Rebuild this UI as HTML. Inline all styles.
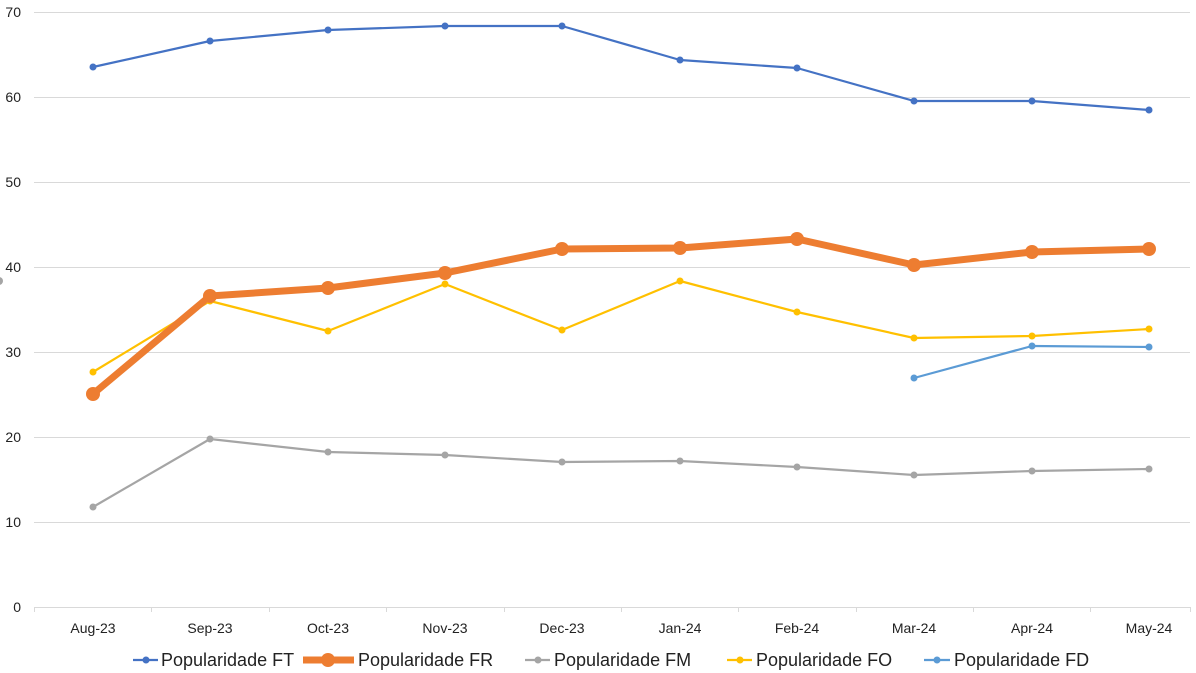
<!DOCTYPE html>
<html><head><meta charset="utf-8"><style>body{margin:0;background:#fff}svg{display:block}text{font-family:"Liberation Sans",Roboto,sans-serif;fill:#222}</style></head><body>
<svg width="1196" height="673" xmlns="http://www.w3.org/2000/svg">
<g stroke="#d9d9d9" stroke-width="1">
<line x1="34" y1="12.5" x2="1190" y2="12.5"/><line x1="34" y1="97.5" x2="1190" y2="97.5"/><line x1="34" y1="182.5" x2="1190" y2="182.5"/><line x1="34" y1="267.5" x2="1190" y2="267.5"/><line x1="34" y1="352.5" x2="1190" y2="352.5"/><line x1="34" y1="437.5" x2="1190" y2="437.5"/><line x1="34" y1="522.5" x2="1190" y2="522.5"/><line x1="34" y1="607.5" x2="1190" y2="607.5"/>
<line x1="34.5" y1="607" x2="34.5" y2="612"/><line x1="151.5" y1="607" x2="151.5" y2="612"/><line x1="269.5" y1="607" x2="269.5" y2="612"/><line x1="386.5" y1="607" x2="386.5" y2="612"/><line x1="504.5" y1="607" x2="504.5" y2="612"/><line x1="621.5" y1="607" x2="621.5" y2="612"/><line x1="738.5" y1="607" x2="738.5" y2="612"/><line x1="856.5" y1="607" x2="856.5" y2="612"/><line x1="973.5" y1="607" x2="973.5" y2="612"/><line x1="1090.5" y1="607" x2="1090.5" y2="612"/><line x1="1190.5" y1="607" x2="1190.5" y2="612"/>
</g>
<g font-size="14" text-anchor="end">
<text x="21" y="17">70</text><text x="21" y="102">60</text><text x="21" y="187">50</text><text x="21" y="272">40</text><text x="21" y="357">30</text><text x="21" y="442">20</text><text x="21" y="527">10</text><text x="21" y="612">0</text>
</g>
<g font-size="14" text-anchor="middle">
<text x="93" y="633">Aug-23</text><text x="210" y="633">Sep-23</text><text x="328" y="633">Oct-23</text><text x="445" y="633">Nov-23</text><text x="562" y="633">Dec-23</text><text x="680" y="633">Jan-24</text><text x="797" y="633">Feb-24</text><text x="914" y="633">Mar-24</text><text x="1032" y="633">Apr-24</text><text x="1149" y="633">May-24</text>
</g>
<circle cx="-1" cy="281" r="4" fill="#a5a5a5"/>
<g fill="none" stroke-linejoin="round">
<polyline stroke="#a5a5a5" stroke-width="2.2" points="93,507 210,439 328,452 445,455 562,462 680,461 797,467 914,475 1032,471 1149,469"/>
<polyline stroke="#ffc000" stroke-width="2.2" points="93,372 210,301 328,331 445,284 562,330 680,281 797,312 914,338 1032,336 1149,329"/>
<polyline stroke="#5b9bd5" stroke-width="2.2" points="914,378 1032,346 1149,347"/>
<polyline stroke="#4472c4" stroke-width="2.2" points="93,67 210,41 328,30 445,26 562,26 680,60 797,68 914,101 1032,101 1149,110"/>
<polyline stroke="#ed7d31" stroke-width="7" points="93,394 210,296 328,288 445,273 562,249 680,248 797,239 914,265 1032,252 1149,249"/>
</g>
<g fill="#a5a5a5"><circle cx="93" cy="507" r="3.5"/><circle cx="210" cy="439" r="3.5"/><circle cx="328" cy="452" r="3.5"/><circle cx="445" cy="455" r="3.5"/><circle cx="562" cy="462" r="3.5"/><circle cx="680" cy="461" r="3.5"/><circle cx="797" cy="467" r="3.5"/><circle cx="914" cy="475" r="3.5"/><circle cx="1032" cy="471" r="3.5"/><circle cx="1149" cy="469" r="3.5"/></g>
<g fill="#ffc000"><circle cx="93" cy="372" r="3.5"/><circle cx="210" cy="301" r="3.5"/><circle cx="328" cy="331" r="3.5"/><circle cx="445" cy="284" r="3.5"/><circle cx="562" cy="330" r="3.5"/><circle cx="680" cy="281" r="3.5"/><circle cx="797" cy="312" r="3.5"/><circle cx="914" cy="338" r="3.5"/><circle cx="1032" cy="336" r="3.5"/><circle cx="1149" cy="329" r="3.5"/></g>
<g fill="#5b9bd5"><circle cx="914" cy="378" r="3.5"/><circle cx="1032" cy="346" r="3.5"/><circle cx="1149" cy="347" r="3.5"/></g>
<g fill="#4472c4"><circle cx="93" cy="67" r="3.5"/><circle cx="210" cy="41" r="3.5"/><circle cx="328" cy="30" r="3.5"/><circle cx="445" cy="26" r="3.5"/><circle cx="562" cy="26" r="3.5"/><circle cx="680" cy="60" r="3.5"/><circle cx="797" cy="68" r="3.5"/><circle cx="914" cy="101" r="3.5"/><circle cx="1032" cy="101" r="3.5"/><circle cx="1149" cy="110" r="3.5"/></g>
<g fill="#ed7d31"><circle cx="93" cy="394" r="7"/><circle cx="210" cy="296" r="7"/><circle cx="328" cy="288" r="7"/><circle cx="445" cy="273" r="7"/><circle cx="562" cy="249" r="7"/><circle cx="680" cy="248" r="7"/><circle cx="797" cy="239" r="7"/><circle cx="914" cy="265" r="7"/><circle cx="1032" cy="252" r="7"/><circle cx="1149" cy="249" r="7"/></g>
<g font-size="18">
<line x1="133" y1="660" x2="158" y2="660" stroke="#4472c4" stroke-width="2.2"/><circle cx="146" cy="660" r="3.5" fill="#4472c4"/><text x="161" y="666">Popularidade FT</text>
<line x1="303" y1="660" x2="354" y2="660" stroke="#ed7d31" stroke-width="7"/><circle cx="328" cy="660" r="7" fill="#ed7d31"/><text x="358" y="666">Popularidade FR</text>
<line x1="525" y1="660" x2="550" y2="660" stroke="#a5a5a5" stroke-width="2.2"/><circle cx="538" cy="660" r="3.5" fill="#a5a5a5"/><text x="554" y="666">Popularidade FM</text>
<line x1="727" y1="660" x2="752" y2="660" stroke="#ffc000" stroke-width="2.2"/><circle cx="740" cy="660" r="3.5" fill="#ffc000"/><text x="756" y="666">Popularidade FO</text>
<line x1="924" y1="660" x2="950" y2="660" stroke="#5b9bd5" stroke-width="2.2"/><circle cx="937" cy="660" r="3.5" fill="#5b9bd5"/><text x="954" y="666">Popularidade FD</text>
</g>
</svg>
</body></html>
